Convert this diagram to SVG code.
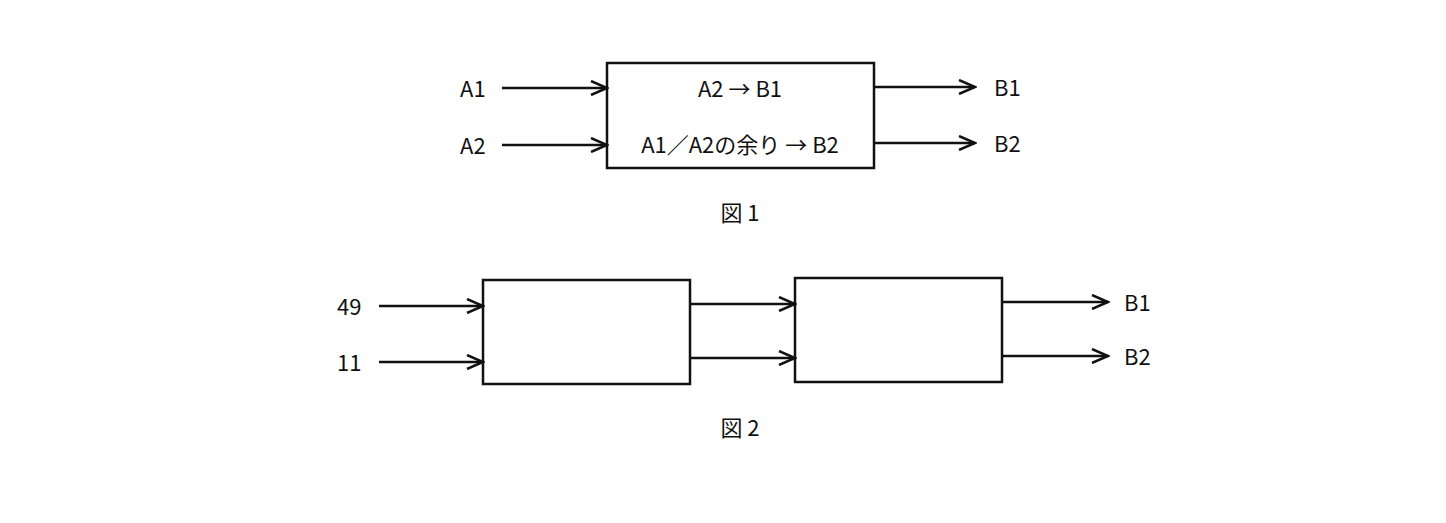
<svg xmlns="http://www.w3.org/2000/svg" width="1446" height="523" viewBox="0 0 1446 523">
<style>
.b{fill:#fff;stroke:#111;stroke-width:2.5}
.c line{stroke:#111;stroke-width:2.5;marker-end:url(#a)}
text{font-family:"Noto Sans CJK JP","DejaVu Sans",sans-serif;font-size:22px;fill:#111}
</style>
<defs><marker id="a" markerWidth="20" markerHeight="16" refX="18" refY="8" markerUnits="userSpaceOnUse" orient="auto"><path d="M2,1 L18,8 L2,15" fill="none" stroke="#111" stroke-width="2.5"/></marker></defs>
<rect width="1446" height="523" fill="#fff"/>
<g id="fig1box"><rect class="b" x="607" y="63" width="267" height="105"/>
<text x="740" y="97" text-anchor="middle">A2 → B1</text>
<text x="740" y="153" text-anchor="middle">A1／A2の余り → B2</text></g>
<g id="fig1labels">
<text x="460" y="97">A1</text><text x="460" y="154">A2</text>
<text x="994" y="96">B1</text><text x="994" y="152">B2</text>
<text x="740" y="221" text-anchor="middle">図 1</text></g>
<g id="fig2box1"><rect class="b" x="483" y="280" width="207" height="104"/></g>
<g id="fig2box2"><rect class="b" x="795" y="278" width="207" height="104"/></g>
<g id="fig2labels">
<text x="337" y="315">49</text><text x="337" y="371">11</text>
<text x="1124" y="311">B1</text><text x="1124" y="365">B2</text>
<text x="740" y="436" text-anchor="middle">図 2</text></g>
<g class="c" id="connectors">
<line x1="502" y1="88" x2="607" y2="88"/><line x1="502" y1="145" x2="607" y2="145"/>
<line x1="874" y1="87" x2="975" y2="87"/><line x1="874" y1="143" x2="975" y2="143"/>
<line x1="379" y1="306" x2="483" y2="306"/><line x1="379" y1="362" x2="483" y2="362"/>
<line x1="690" y1="304" x2="795" y2="304"/><line x1="690" y1="358" x2="795" y2="358"/>
<line x1="1002" y1="302" x2="1108" y2="302"/><line x1="1002" y1="356" x2="1108" y2="356"/>
</g>
</svg>
